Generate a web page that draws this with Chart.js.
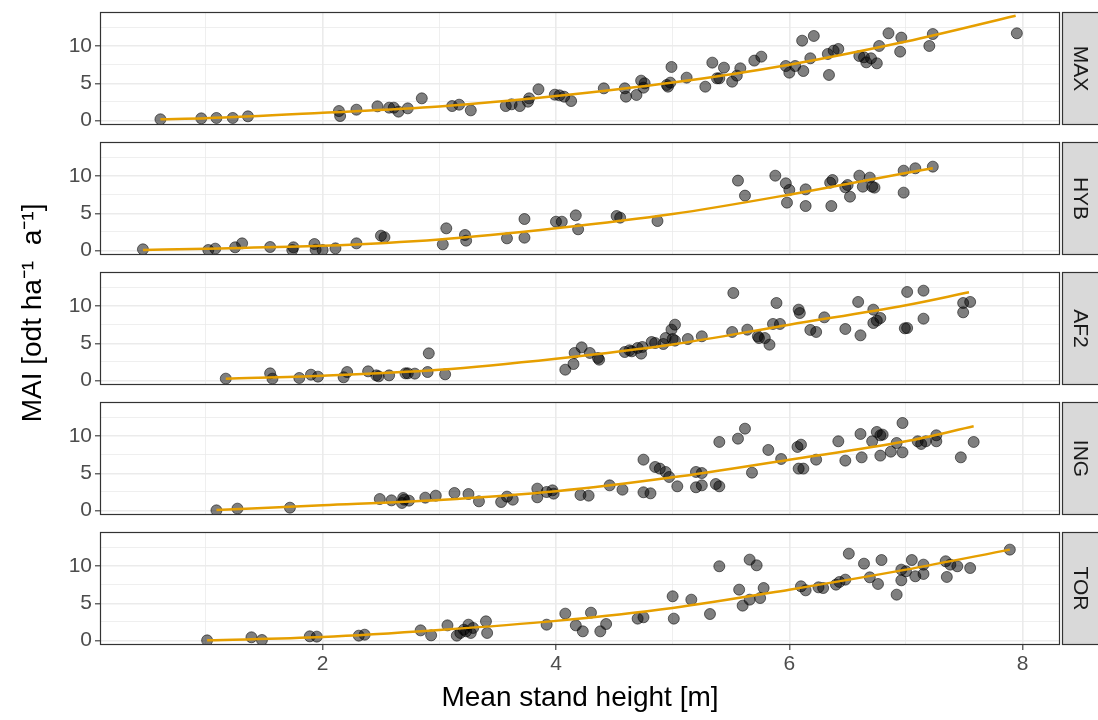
<!DOCTYPE html>
<html>
<head>
<meta charset="utf-8">
<script src="https://cdn.jsdelivr.net/npm/chart.js@4.4.0/dist/chart.umd.min.js"></script>
<style>
body { margin: 0; background: #fff; }
#wrap { position: relative; width: 1098px; height: 720px; }
#wrap canvas { position: absolute; left: 0; top: 0; }
</style>
</head>
<body>
<div id="wrap">
  <canvas id="p0" width="1098" height="720"></canvas>
  <canvas id="p1" width="1098" height="720"></canvas>
  <canvas id="p2" width="1098" height="720"></canvas>
  <canvas id="p3" width="1098" height="720"></canvas>
  <canvas id="p4" width="1098" height="720"></canvas>
</div>
<script>
// facet names, top to bottom
var panels = ['MAX', 'HYB', 'AF2', 'ING', 'TOR'];

// axis ticks (minor ticks have an empty label)
var xTicks = [1, 2, 3, 4, 5, 6, 7, 8];
var xLabels = ['', '2', '', '4', '', '6', '', '8'];
var yTicks = [0, 2.5, 5, 7.5, 10, 12.5];
var yLabels = ['0', '', '5', '', '10', ''];

// mean stand height [m] / MAI, per clone
var max_h = [0.61,0.96,1.09,1.23,1.36,2.14,2.15,2.29,2.47,2.57,2.61,2.65,2.73,2.85,3.11,3.17,3.27,3.57,3.62,3.69,3.76,3.77,3.85,3.99,4.03,4.07,4.13,
  4.41,4.59,4.60,4.69,4.73,4.76,4.75,4.95,4.96,4.98,4.99,5.12,5.28,5.34,5.38,5.40,5.44,5.51,5.55,5.58,5.70,5.76,5.97,6.00,6.05,6.12,6.11,6.21,6.18,6.34,6.33,6.38,6.42,6.60,6.64,6.66,6.70,6.75,6.77,6.85,6.95,6.96,7.20,7.23,7.95];
var max_mai = [0.18,0.31,0.36,0.36,0.58,1.29,0.62,1.47,1.92,1.74,1.74,1.21,1.65,2.99,1.96,2.14,1.38,1.96,2.19,1.96,2.54,2.99,4.20,3.48,3.39,3.21,2.63,
  4.33,4.33,3.21,3.44,5.36,5.00,4.42,4.78,4.55,5.09,7.19,5.76,4.55,7.77,5.67,5.67,7.10,5.22,6.03,7.01,8.04,8.57,7.32,6.43,7.32,6.65,10.71,11.34,8.35,6.12,8.93,9.38,9.60,8.66,8.48,7.81,8.35,7.68,10.00,11.70,9.24,11.12,10.00,11.60,11.70];

var hyb_h = [0.46,1.02,1.08,1.25,1.31,1.55,1.74,1.75,1.93,1.94,2.00,2.11,2.29,2.50,2.53,3.03,3.06,3.22,3.23,3.58,3.73,3.73,4.00,4.05,4.17,4.19,
  4.52,4.55,4.87,5.56,5.62,5.88,5.97,6.00,5.98,6.14,6.14,6.36,6.35,6.37,6.48,6.50,6.52,6.60,6.63,6.69,6.71,6.73,6.98,6.98,7.08,7.23];
var hyb_mai = [0.18,0.09,0.27,0.45,0.98,0.49,0.09,0.45,0.89,0.13,0.09,0.31,0.98,2.01,1.79,0.85,2.99,2.10,1.34,1.65,4.24,1.74,3.88,3.88,4.73,2.86,
  4.64,4.42,3.97,9.38,7.37,10.04,9.02,8.13,6.43,8.21,5.98,5.98,9.10,9.46,8.48,8.79,7.23,10.04,8.57,9.78,8.57,8.44,10.71,7.77,11.03,11.25];

var af2_h = [1.17,1.55,1.57,1.80,1.90,1.96,2.18,2.21,2.39,2.46,2.48,2.57,2.71,2.73,2.79,2.91,2.90,3.05,
  4.08,4.15,4.16,4.22,4.29,4.36,4.37,4.59,4.63,4.65,4.70,4.73,4.74,4.82,4.85,4.92,4.94,4.99,5.02,5.00,5.02,5.13,5.25,5.51,5.52,5.64,5.73,5.74,5.79,5.83,5.89,5.86,5.92,6.08,6.09,6.18,6.23,6.30,6.48,6.59,6.61,6.72,6.72,6.75,6.78,6.99,7.01,7.01,7.15,7.15,7.49,7.49,7.55];
var af2_mai = [0.27,0.98,0.27,0.36,0.80,0.54,0.45,1.16,1.25,0.71,0.58,0.71,0.98,0.98,0.94,3.66,1.16,0.85,
  1.47,2.23,3.71,4.46,3.71,3.04,2.81,3.84,4.06,3.93,4.38,3.62,4.51,5.18,5.04,4.91,5.71,6.83,7.50,5.58,5.36,5.58,5.94,6.52,11.74,6.83,5.94,5.71,5.71,4.82,10.40,7.59,7.59,9.51,9.06,6.79,6.52,8.48,6.92,10.54,6.07,9.51,7.72,8.04,8.39,7.01,7.05,11.88,12.05,8.30,10.40,9.15,10.54];

var ing_h = [1.09,1.27,1.72,2.49,2.59,2.69,2.68,2.70,2.74,2.88,2.97,3.13,3.25,3.34,3.53,3.58,3.63,3.84,3.84,3.92,3.97,3.98,
  4.21,4.28,4.46,4.57,4.75,4.81,4.75,4.85,4.89,4.94,4.97,5.04,5.20,5.25,5.20,5.25,5.37,5.40,5.40,5.56,5.62,5.68,5.82,5.93,6.07,6.10,6.08,6.12,6.23,6.42,6.48,6.61,6.62,6.71,6.75,6.78,6.80,6.78,6.87,6.92,6.97,6.97,7.10,7.13,7.17,7.26,7.26,7.47,7.58];
var ing_mai = [0.04,0.27,0.40,1.56,1.38,1.70,1.03,1.47,1.34,1.74,2.01,2.37,2.23,1.25,1.16,1.88,1.47,2.95,1.79,2.50,2.72,2.28,
  2.10,2.01,3.39,2.81,2.46,2.32,6.83,5.85,5.63,5.18,4.51,3.26,5.18,5.04,3.13,3.39,3.57,3.26,9.20,9.64,10.98,5.09,8.13,6.92,8.53,8.84,5.63,5.63,6.83,9.29,6.70,10.27,7.14,9.29,10.54,10.09,10.18,7.37,7.90,9.06,11.74,7.81,9.29,8.93,9.29,9.29,10.09,7.14,9.20];

var tor_h = [1.01,1.39,1.48,1.89,1.95,2.31,2.36,2.84,2.93,3.07,3.15,3.18,3.21,3.23,3.25,3.27,3.29,3.40,3.41,3.92,
  4.08,4.17,4.23,4.30,4.38,4.43,4.70,4.75,5.00,5.01,5.16,5.32,5.40,5.57,5.60,5.66,5.66,5.72,5.75,5.78,6.10,6.14,6.25,6.29,6.40,6.43,6.48,6.51,6.64,6.69,6.76,6.79,6.92,6.96,6.96,7.00,7.05,7.08,7.15,7.15,7.34,7.35,7.38,7.44,7.55,7.89];
var tor_mai = [0.04,0.45,0.09,0.58,0.54,0.67,0.80,1.38,0.71,2.05,0.67,1.03,1.47,1.25,2.14,1.03,1.70,2.59,1.03,2.14,
  3.62,2.05,1.25,3.75,1.25,2.23,2.95,3.13,5.94,2.95,5.49,3.57,9.96,6.83,4.69,10.85,5.49,10.09,5.71,7.05,7.28,6.74,7.14,7.05,7.50,7.86,8.17,11.65,10.31,8.48,7.59,10.80,6.16,9.51,8.08,9.29,10.80,8.62,10.18,8.93,10.63,8.53,10.18,9.96,9.73,12.19];

// fitted curves
var max_fit_h = [0.61, 1, 2, 3, 4, 5, 6, 7, 7.94];
var max_fit_mai = [0.18, 0.32, 1.05, 1.9, 3.3, 5.1, 7.5, 10.6, 14.06];
var hyb_fit_h = [0.46, 1, 2, 3, 4, 5, 6, 7, 7.23];
var hyb_fit_mai = [0.09, 0.27, 0.65, 1.5, 3.0, 4.9, 7.5, 10.4, 11.03];
var af2_fit_h = [1.17, 2, 3, 4, 5, 6, 7, 7.54];
var af2_fit_mai = [0.27, 0.67, 1.47, 2.95, 4.85, 7.5, 10.1, 11.83];
var ing_fit_h = [1.09, 2, 3, 4, 5, 6, 7, 7.58];
var ing_fit_mai = [0.09, 0.71, 1.43, 2.6, 4.46, 6.83, 9.29, 11.3];
var tor_fit_h = [1.01, 2, 3, 4, 5, 6, 7, 7.89];
var tor_fit_mai = [0.04, 0.49, 1.43, 2.65, 4.38, 6.83, 9.51, 12.19];

var panelTops = [12, 142, 272, 402, 532];
var panelH = 113;

Chart.defaults.font.family = '"Liberation Sans", Arial, sans-serif';

// frame around the panel + grey facet strip on the right
var panelFrame = {
  id: 'panelFrame',
  afterDraw: function(chart, args, opts) {
    var a = chart.chartArea, c = chart.ctx;
    c.save();
    c.strokeStyle = '#333333';
    c.lineWidth = 1.2;
    c.strokeRect(a.left + 0.5, a.top + 0.5, a.right - a.left - 1, a.bottom - a.top - 1);
    c.fillStyle = '#D9D9D9';
    c.fillRect(a.right + 2, a.top, 40, a.bottom - a.top);
    c.strokeRect(a.right + 2.5, a.top + 0.5, 40, a.bottom - a.top - 1);
    c.translate(a.right + 20, (a.top + a.bottom) / 2);
    c.rotate(Math.PI / 2);
    c.fillStyle = '#1A1A1A';
    c.font = '21px "Liberation Sans", Arial, sans-serif';
    c.textAlign = 'center';
    c.textBaseline = 'middle';
    c.fillText(opts.label, 0, 0);
    c.restore();
  }
};

function makePanel(idx, hs, mais, fitH, fitMai) {
  var top = panelTops[idx];
  var last = idx === panels.length - 1;
  var pts = hs.map(function(h, i) { return {x: h, y: mais[i]}; });
  var fit = fitH.map(function(h, i) { return {x: h, y: fitMai[i]}; });

  new Chart(document.getElementById('p' + idx), {
    type: 'scatter',
    data: {
      datasets: [{
        type: 'line',
        data: fit,
        borderColor: '#E69F00',
        borderWidth: 2.5,
        pointRadius: 0,
        fill: false,
        cubicInterpolationMode: 'monotone',
        order: 0
      }, {
        data: pts,
        backgroundColor: 'rgba(0,0,0,0.5)',
        borderColor: 'rgba(0,0,0,0.55)',
        borderWidth: 1,
        pointRadius: 5.5,
        order: 1
      }]
    },
    options: {
      responsive: false,
      animation: false,
      layout: { padding: { top: top, bottom: last ? 0 : 720 - (top + panelH), left: 0, right: 38 } },
      plugins: {
        legend: { display: false },
        tooltip: { enabled: false },
        panelFrame: { label: panels[idx] }
      },
      scales: {
        x: {
          type: 'linear',
          min: 0.092,
          max: 8.32,
          afterBuildTicks: function(ax) { ax.ticks = xTicks.map(function(v) { return {value: v}; }); },
          afterFit: function(ax) {
            ax.height = last ? 720 - (top + panelH) : 0;
            ax.paddingLeft = 0; ax.paddingRight = 0;
          },
          border: { display: false },
          grid: {
            color: '#EBEBEB',
            lineWidth: function(ctx) { return xLabels[ctx.index] ? 1.6 : 0.8; },
            drawTicks: last,
            tickLength: 5,
            tickWidth: 1.1,
            tickColor: function(ctx) { return xLabels[ctx.index] ? '#333333' : 'rgba(0,0,0,0)'; }
          },
          ticks: {
            display: last,
            autoSkip: false,
            maxRotation: 0,
            padding: 2,
            color: '#4D4D4D',
            font: { size: 21 },
            callback: function(v, i) { return xLabels[i]; }
          },
          title: {
            display: last,
            text: 'Mean stand height [m]',
            color: '#000000',
            font: { size: 28 },
            padding: 5
          }
        },
        y: {
          min: -0.58,
          max: 14.55,
          afterBuildTicks: function(ax) { ax.ticks = yTicks.map(function(v) { return {value: v}; }); },
          afterFit: function(ax) {
            ax.width = 100;
            ax.paddingTop = 0; ax.paddingBottom = 0;
          },
          border: { display: false },
          grid: {
            color: '#EBEBEB',
            lineWidth: function(ctx) { return yLabels[ctx.index] ? 1.6 : 0.8; },
            tickLength: 5,
            tickWidth: 1.1,
            tickColor: function(ctx) { return yLabels[ctx.index] ? '#333333' : 'rgba(0,0,0,0)'; }
          },
          ticks: {
            autoSkip: false,
            padding: 3,
            color: '#4D4D4D',
            font: { size: 21 },
            callback: function(v, i) { return yLabels[i]; }
          },
          title: {
            display: idx === 2,
            text: '    MAI [odt ha\u207B\u00B9  a\u207B\u00B9]',
            color: '#000000',
            font: { size: 28 },
            padding: 16
          }
        }
      }
    },
    plugins: [panelFrame]
  });
}

makePanel(0, max_h, max_mai, max_fit_h, max_fit_mai);
makePanel(1, hyb_h, hyb_mai, hyb_fit_h, hyb_fit_mai);
makePanel(2, af2_h, af2_mai, af2_fit_h, af2_fit_mai);
makePanel(3, ing_h, ing_mai, ing_fit_h, ing_fit_mai);
makePanel(4, tor_h, tor_mai, tor_fit_h, tor_fit_mai);
</script>
</body>
</html>
